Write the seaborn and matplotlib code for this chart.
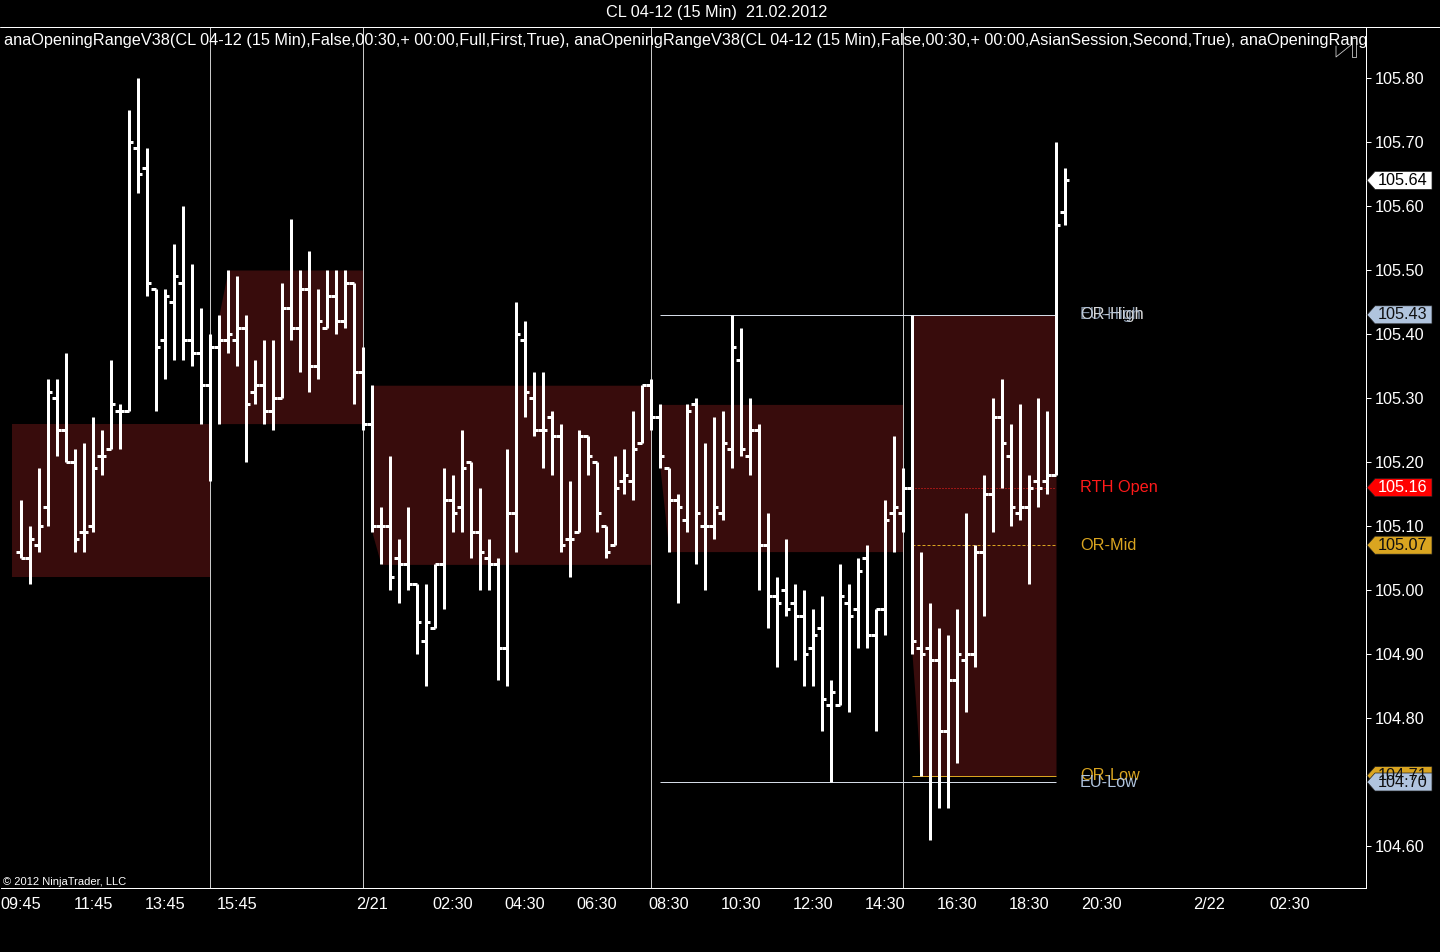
import numpy as np
import matplotlib
matplotlib.use("Agg")
import matplotlib.pyplot as plt
import matplotlib.transforms as mtrans
from matplotlib.patches import Polygon
from matplotlib.lines import Line2D
import seaborn as sns

# ---------------- data (CL 04-12, 15 min bars, bar index 0 = 09:45) ----------------
opens = [105.06, 105.05, 105.07, 105.13, 105.30, 105.25, 105.20, 105.09, 105.10, 105.21,
         105.22, 105.28, 105.28, 105.69, 105.66, 105.47, 105.39, 105.45, 105.48, 105.39,
         105.37, 105.32, 105.38, 105.39, 105.39, 105.41, 105.31, 105.32, 105.28, 105.30,
         105.44, 105.41, 105.47, 105.35, 105.41, 105.46, 105.42, 105.48, 105.34, 105.26,
         105.10, 105.10, 105.05, 105.04, 105.01, 104.92, 104.94, 105.04, 105.14, 105.13,
         105.20, 105.09, 105.05, 105.04, 104.91, 105.12, 105.39, 105.30, 105.25, 105.27,
         105.24, 105.08, 105.09, 105.24, 105.20, 105.10, 105.07, 105.17, 105.17, 105.23,
         105.32, 105.27, 105.19, 105.14, 105.11, 105.29, 105.10, 105.10, 105.12, 105.22,
         105.36, 105.21, 105.25, 105.07, 104.99, 105.00, 104.98, 104.96, 104.91, 104.94,
         104.82, 104.82, 104.98, 104.97, 105.05, 104.93, 104.97, 105.12, 105.12, 105.16,
         104.91, 104.91, 104.89, 104.78, 104.86, 104.89, 104.90, 105.06, 105.15, 105.27,
         105.21, 105.12, 105.13, 105.17, 105.17, 105.18, 105.59]
highs = [105.14, 105.10, 105.19, 105.33, 105.33, 105.37, 105.22, 105.23, 105.27, 105.25,
         105.36, 105.29, 105.75, 105.80, 105.69, 105.47, 105.47, 105.54, 105.60, 105.51,
         105.44, 105.40, 105.43, 105.50, 105.49, 105.43, 105.36, 105.39, 105.39, 105.48,
         105.58, 105.50, 105.53, 105.47, 105.50, 105.50, 105.50, 105.48, 105.38, 105.32,
         105.13, 105.21, 105.08, 105.13, 105.01, 105.01, 105.04, 105.19, 105.18, 105.25,
         105.20, 105.16, 105.08, 105.05, 105.22, 105.45, 105.42, 105.34, 105.34, 105.28,
         105.26, 105.17, 105.25, 105.24, 105.20, 105.10, 105.21, 105.22, 105.28, 105.32,
         105.33, 105.29, 105.19, 105.15, 105.29, 105.30, 105.23, 105.27, 105.28, 105.43,
         105.41, 105.30, 105.26, 105.12, 105.02, 105.08, 105.01, 105.00, 104.97, 104.99,
         104.86, 105.04, 105.01, 105.05, 105.07, 104.97, 105.14, 105.24, 105.19, 105.43,
         105.06, 104.98, 104.94, 104.93, 104.97, 105.12, 105.07, 105.18, 105.30, 105.33,
         105.26, 105.29, 105.18, 105.30, 105.28, 105.70, 105.66]
lows = [105.05, 105.01, 105.06, 105.10, 105.21, 105.20, 105.06, 105.06, 105.09, 105.18,
        105.22, 105.22, 105.28, 105.62, 105.46, 105.28, 105.33, 105.36, 105.36, 105.35,
        105.26, 105.17, 105.26, 105.37, 105.35, 105.20, 105.29, 105.26, 105.25, 105.30,
        105.39, 105.34, 105.31, 105.33, 105.41, 105.40, 105.41, 105.29, 105.25, 105.09,
        105.04, 105.00, 104.98, 105.00, 104.90, 104.85, 104.94, 104.97, 105.09, 105.09,
        105.05, 105.00, 105.00, 104.86, 104.85, 105.06, 105.27, 105.24, 105.19, 105.18,
        105.06, 105.02, 105.09, 105.18, 105.09, 105.05, 105.07, 105.15, 105.14, 105.23,
        105.25, 105.19, 105.06, 104.98, 105.09, 105.04, 105.00, 105.08, 105.11, 105.19,
        105.21, 105.18, 105.00, 104.94, 104.88, 104.96, 104.89, 104.85, 104.85, 104.78,
        104.70, 104.82, 104.81, 104.91, 104.91, 104.78, 104.93, 105.06, 105.09, 104.90,
        104.71, 104.61, 104.66, 104.66, 104.73, 104.81, 104.88, 104.96, 105.09, 105.16,
        105.10, 105.11, 105.01, 105.13, 105.15, 105.18, 105.57]
closes = [105.05, 105.08, 105.10, 105.31, 105.25, 105.20, 105.08, 105.09, 105.19, 105.21,
          105.29, 105.28, 105.70, 105.65, 105.48, 105.38, 105.46, 105.49, 105.39, 105.37,
          105.32, 105.38, 105.39, 105.40, 105.41, 105.29, 105.32, 105.28, 105.30, 105.44,
          105.41, 105.47, 105.35, 105.42, 105.46, 105.42, 105.48, 105.34, 105.26, 105.10,
          105.10, 105.02, 105.04, 105.01, 104.95, 104.95, 105.04, 105.14, 105.12, 105.19,
          105.09, 105.06, 105.04, 104.91, 105.12, 105.40, 105.31, 105.25, 105.25, 105.24,
          105.07, 105.08, 105.24, 105.21, 105.12, 105.06, 105.16, 105.18, 105.22, 105.32,
          105.27, 105.21, 105.14, 105.13, 105.28, 105.12, 105.10, 105.13, 105.23, 105.38,
          105.22, 105.25, 105.07, 104.99, 104.98, 104.97, 104.96, 104.90, 104.93, 104.83,
          104.84, 104.99, 104.96, 105.03, 104.93, 104.97, 105.11, 105.13, 105.16, 104.92,
          104.90, 104.89, 104.78, 104.86, 104.90, 104.90, 105.06, 105.15, 105.27, 105.23,
          105.13, 105.13, 105.16, 105.16, 105.18, 105.57, 105.64]

tick_pos = [0, 8, 16, 24, 32, 39, 48, 56, 64, 72, 80, 88, 96, 104, 112, 120, 128, 132, 141]
tick_labels = ["09:45", "11:45", "13:45", "15:45", "", "2/21", "02:30", "04:30", "06:30",
               "08:30", "10:30", "12:30", "14:30", "16:30", "18:30", "20:30", "", "2/22", "02:30"]
price_ticks = [104.60, 104.70, 104.80, 104.90, 105.00, 105.10, 105.20, 105.30, 105.40,
               105.50, 105.60, 105.70, 105.80]

session_lines = [21, 38, 70, 98]
or_windows = [(22, 38), (39, 70), (71, 98), (99, 115)]     # first bar, last bar drawn
prior_band = (-1, 21, 105.02, 105.26)                       # start, end, low, high
eu_window = (71, 98)
rth_bar = 99
level_end = 115

title = "CL 04-12 (15 Min)  21.02.2012"
header = ("anaOpeningRangeV38(CL 04-12 (15 Min),False,00:30,+ 00:00,Full,First,True), "
          "anaOpeningRangeV38(CL 04-12 (15 Min),False,00:30,+ 00:00,AsianSession,Second,True), "
          "anaOpeningRange")

# ---------------- style ----------------
sns.set_theme(style="dark", rc={"axes.facecolor": "black", "figure.facecolor": "black",
                                "axes.edgecolor": "white", "text.color": "white",
                                "xtick.color": "white", "ytick.color": "white"})
plt.rcParams["font.family"] = ["Liberation Sans", "DejaVu Sans"]

W, H = 1440, 952
fig = plt.figure(figsize=(W / 100, H / 100), dpi=100)
ax_left, ax_right, ax_top, ax_bot = 1, 1366, 27, 888
ax = fig.add_axes([ax_left / W, (H - ax_bot) / H, (ax_right - ax_left) / W, (ax_bot - ax_top) / H])
ax.set_facecolor("black")

# pixel <-> data mapping (bar i at x = 21 + 9 i ; 105.80 at y=78, 640 px per 1.00)
ax.set_xlim((ax_left - 21) / 9, (ax_right - 21) / 9)
ax.set_ylim(104.60 - (ax_bot - 846) / 640, 105.80 + (78 - ax_top) / 640)

PX = 0.72  # points per pixel
band_col = "#380c0c"

x = np.arange(len(opens))
o = np.array(opens); hi = np.array(highs); lo = np.array(lows); c = np.array(closes)

# prior band
ax.fill_between([prior_band[0], prior_band[1]], prior_band[2], prior_band[3],
                color=band_col, lw=0, zorder=1)
# opening range bands (two-bar opening range building up)
for s, e in or_windows:
    xs = np.arange(s, e + 1)
    up = np.full(len(xs), max(hi[s], hi[s + 1]))
    dn = np.full(len(xs), min(lo[s], lo[s + 1]))
    up[0], dn[0] = hi[s], lo[s]
    ax.fill_between(xs, dn, up, color=band_col, lw=0, zorder=1)

# session lines
for sl in session_lines:
    ax.axvline(sl, color="#c8c8c8", lw=1 * PX, zorder=2)

# levels
eu_hi = hi[eu_window[0]:eu_window[1] + 1].max()
eu_lo = lo[eu_window[0]:eu_window[1] + 1].min()
or_hi = max(hi[rth_bar], hi[rth_bar + 1])
or_lo = min(lo[rth_bar], lo[rth_bar + 1])
or_mid = round((or_hi + or_lo) / 2, 2)
rth_open = o[rth_bar]

gold = "#daa520"
steel = "#b0c4de"
ax.hlines([eu_hi, eu_lo], eu_window[0], level_end, color="#d4dbe6", lw=1 * PX, zorder=2)
ax.hlines(or_lo, rth_bar, level_end, color=gold, lw=1 * PX, zorder=2)
ax.hlines(or_mid, rth_bar, level_end, color=gold, lw=1 * PX, linestyles=(0, (3, 2)), zorder=2)
ax.hlines(rth_open, rth_bar, level_end, color="#ff2020", lw=1 * PX, linestyles=(0, (1, 2)), zorder=2)

# OHLC bars
bw = 3 * PX
ax.vlines(x, lo, hi, color="white", lw=bw, capstyle="butt", zorder=5)
ax.hlines(o, x - 0.5, x, color="white", lw=bw, capstyle="butt", zorder=5)
ax.hlines(c, x, x + 0.5, color="white", lw=bw, capstyle="butt", zorder=5)

# level labels
lx = (1080 - 21) / 9
fs = 11.7
ax.text(lx, or_hi, "OR-High", color="#d8d8d8", fontsize=fs, va="center", ha="left", zorder=6)
ax.text(lx, eu_hi, "EU-High", color=steel, fontsize=fs, va="center", ha="left", zorder=6, alpha=0.75)
ax.text(lx, rth_open, "RTH Open", color="#ff1a1a", fontsize=fs, va="center", ha="left", zorder=6)
ax.text(lx, or_mid, "OR-Mid", color=gold, fontsize=fs, va="center", ha="left", zorder=6)
ax.text(lx, or_lo, "OR-Low", color=gold, fontsize=fs, va="center", ha="left", zorder=6)
ax.text(lx, eu_lo, "EU-Low", color=steel, fontsize=fs, va="center", ha="left", zorder=6)

# axes styling
for side in ["left", "top"]:
    ax.spines[side].set_visible(False)
ax.spines["right"].set_color("white")
ax.spines["bottom"].set_color("white")
ax.spines["right"].set_linewidth(1 * PX)
ax.spines["bottom"].set_linewidth(1 * PX)
ax.yaxis.tick_right()
ax.set_yticks(price_ticks)
ax.set_yticklabels([f"{p:.2f}" for p in price_ticks])
ax.set_xticks(tick_pos)
ax.set_xticklabels(tick_labels)
ax.tick_params(axis="both", direction="out", length=5 * PX, width=1 * PX, colors="white",
               labelsize=fs, pad=3)
ax.tick_params(axis="y", pad=2.5)
ax.grid(False)

# price boxes on the right axis
bt = mtrans.blended_transform_factory(ax.transAxes, ax.transData)
def axx(px):
    return (px - ax_left) / (ax_right - ax_left)
hh = 9 / 640
def price_box(p, fc, tc):
    pts = [(axx(1367), p), (axx(1375), p + hh), (axx(1432), p + hh), (axx(1432), p - hh), (axx(1375), p - hh)]
    ax.add_patch(Polygon(pts, closed=True, facecolor=fc, edgecolor="#202020", lw=0.5,
                         transform=bt, clip_on=False, zorder=10))
    ax.text(axx(1403), p, f"{p:.2f}", color=tc, fontsize=fs, ha="center", va="center",
            transform=bt, clip_on=False, zorder=11)

price_box(c[-1], "white", "black")
price_box(eu_hi, steel, "#101010")
price_box(rth_open, "#ff0000", "white")
price_box(or_mid, gold, "#101010")
price_box(or_lo, gold, "#101010")
price_box(eu_lo, steel, "#101010")

# header texts
fig.text(717 / W, 1 - 12 / H, title, color="white", fontsize=fs, ha="center", va="center")
ht = ax.text(3 / (ax_right - ax_left), 1 - (41 - ax_top) / (ax_bot - ax_top), header,
             color="white", fontsize=fs, ha="left", va="center", transform=ax.transAxes,
             clip_on=True, zorder=12)
ax.text(2 / (ax_right - ax_left), (ax_bot - 882) / (ax_bot - ax_top), "\u00a9 2012 NinjaTrader, LLC",
        color="white", fontsize=8, ha="left", va="center", transform=ax.transAxes, zorder=12)

# frame line on top of the panel and small icon
fig.add_artist(Line2D([0, 1], [1 - ax_top / H, 1 - ax_top / H], color="white", lw=1 * PX))
def fp(px, py):
    return px / W, 1 - py / H
xs_, ys_ = zip(*[fp(1336, 46), fp(1336, 57), fp(1351, 45)])
fig.add_artist(Line2D(xs_, ys_, color="#d0d0d0", lw=0.8 * PX))
xs_, ys_ = zip(*[fp(1352, 38), fp(1356, 38), fp(1356, 57), fp(1352, 57), fp(1352, 38)])
fig.add_artist(Line2D(xs_, ys_, color="#d0d0d0", lw=0.8 * PX))

fig.savefig("out.png", dpi=100, facecolor="black")
